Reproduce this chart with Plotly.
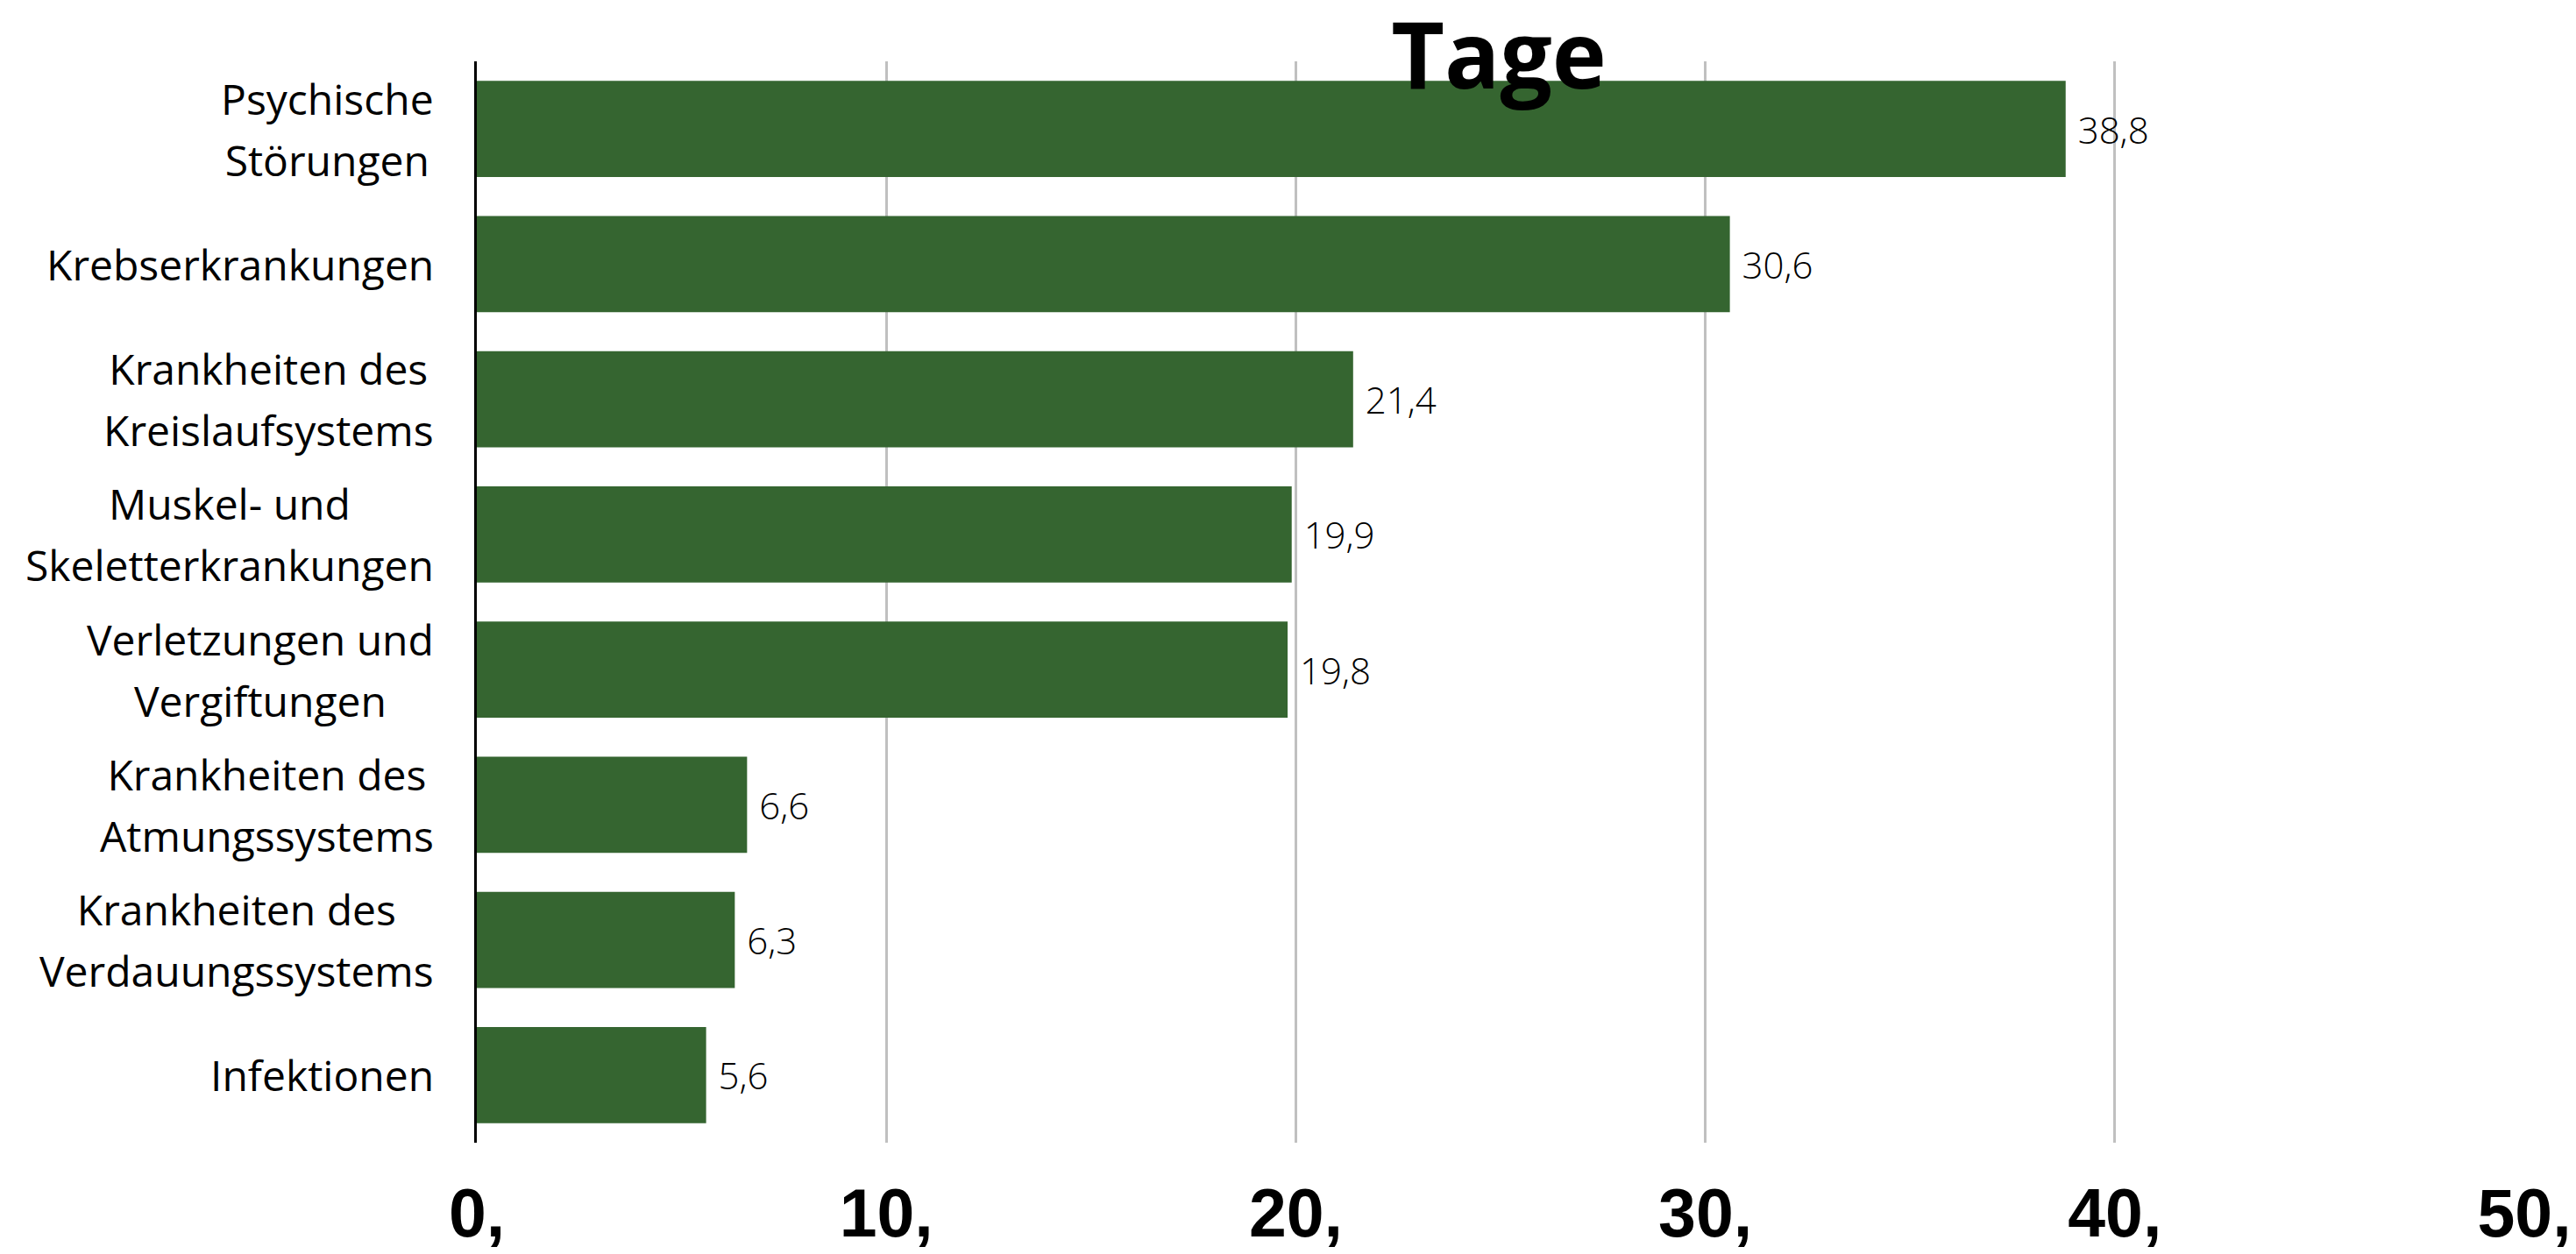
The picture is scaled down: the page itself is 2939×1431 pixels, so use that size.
import plotly.graph_objects as go

categories = [
    "Psychische<br>Störungen",
    "Krebserkrankungen",
    "Krankheiten des<br>Kreislaufsystems",
    "Muskel- und<br>Skeletterkrankungen",
    "Verletzungen und<br>Vergiftungen",
    "Krankheiten des<br>Atmungssystems",
    "Krankheiten des<br>Verdauungssystems",
    "Infektionen",
]
values = [38.8, 30.6, 21.4, 19.9, 19.8, 6.6, 6.3, 5.6]
value_labels = ["38,8", "30,6", "21,4", "19,9", "19,8", "6,6", "6,3", "5,6"]
x_tickvals = [0, 10, 20, 30, 40, 50]
x_ticktext = ["0,", "10,", "20,", "30,", "40,", "50,"]
title_text = "Tage"

ykeys = [c.replace("<br>", " ") for c in categories]

fig = go.Figure()
fig.add_trace(go.Bar(
    x=values,
    y=ykeys,
    orientation="h",
    marker=dict(color="#356530", line=dict(width=0)),
    text=[" " + v for v in value_labels],
    textposition="outside",
    cliponaxis=False,
    textfont=dict(family="Open Sans", size=42, color="#000000", weight=300),
    hoverinfo="skip",
))

for key, label in zip(ykeys, categories):
    fig.add_annotation(
        x=0, xref="paper", y=key, yref="y",
        xanchor="right", yanchor="middle", xshift=-47,
        align="center", showarrow=False,
        text="<span style='font-size:48px'>" + label.replace("<br>", "</span><br><span style='font-size:48px'>") + "</span>",
        font=dict(family="Open Sans", size=54, color="#000000"),
    )

fig.update_layout(
    width=2939, height=1431,
    margin=dict(l=544, r=59, t=70, b=127, autoexpand=False),
    paper_bgcolor="white", plot_bgcolor="white",
    bargap=0.29,
    showlegend=False,
    title=dict(
        text=title_text, x=1710 / 2939, xanchor="center",
        y=1 - 64 / 1431, yanchor="middle", xref="container", yref="container",
        font=dict(family="Open Sans", size=105, color="#000000", weight="bold"),
        automargin=False,
    ),
    xaxis=dict(
        range=[0, 50], tickvals=x_tickvals, ticktext=x_ticktext,
        showgrid=True, gridcolor="#C0C0C0", gridwidth=3,
        zeroline=False, showline=False, ticks="",
        tickfont=dict(family="Liberation Sans", size=77, color="#000000", weight="bold"),
        ticklabelstandoff=29, automargin=False,
    ),
    yaxis=dict(
        autorange="reversed", showticklabels=False, showgrid=False, automargin=False,
        zeroline=False, showline=True, linecolor="#000000", linewidth=3, ticks="",
    ),
)

fig.write_html("out.html")
